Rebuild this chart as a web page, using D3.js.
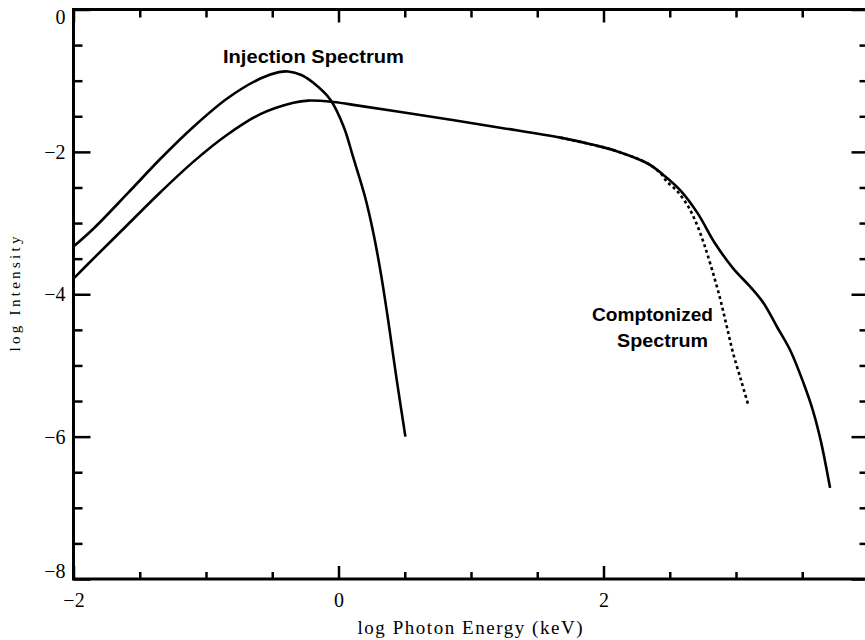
<!DOCTYPE html>
<html>
<head>
<meta charset="utf-8">
<script src="https://cdn.jsdelivr.net/npm/d3@7"></script>
<style>
    body { margin: 0; background: #fff; }
    svg { display: block; }
    .tick text { font-family: "Liberation Serif", "Times New Roman", serif; font-size: 20px; fill: #000; }
    .tick line { stroke: #000; stroke-width: 2.5; }
    .axes-label { font-family: "Liberation Serif", "Times New Roman", serif; fill: #000; text-anchor: middle; }
    .note { font-family: "Liberation Sans", Arial, sans-serif; font-weight: bold; font-size: 18px; fill: #000; text-anchor: middle; }
    .curve { fill: none; stroke: #000; stroke-width: 2.6; }
</style>
</head>
<body>
<div id="chart"></div>
<script>
// injection spectrum (narrow, peaked solid curve)
const injLogE = [-2.0, -1.85, -1.59, -1.34, -1.09, -0.84, -0.59, -0.45, -0.38, -0.28, -0.19, -0.06, 0.04, 0.11, 0.20, 0.26, 0.32, 0.38, 0.44, 0.505];
const injLogI = [-3.33, -3.08, -2.58, -2.09, -1.64, -1.25, -0.97, -0.88, -0.87, -0.92, -1.03, -1.27, -1.65, -2.07, -2.63, -3.11, -3.71, -4.43, -5.21, -6.0];

// comptonized spectrum (broad solid curve)
const compLogE = [-2.0, -1.85, -1.59, -1.34, -1.09, -0.84, -0.59, -0.34, -0.23, -0.04, 0.15, 0.47, 1.22, 1.675, 1.92, 2.10, 2.33, 2.45, 2.58, 2.71, 2.84, 2.98, 3.11, 3.21, 3.31, 3.41, 3.51, 3.58, 3.64, 3.71];
const compLogI = [-3.78, -3.50, -3.02, -2.56, -2.13, -1.76, -1.47, -1.31, -1.28, -1.30, -1.35, -1.44, -1.66, -1.80, -1.90, -1.99, -2.16, -2.32, -2.54, -2.86, -3.28, -3.64, -3.90, -4.13, -4.46, -4.79, -5.25, -5.63, -6.06, -6.72];

// dotted cutoff branch of the comptonized spectrum
const dotLogE = [1.675, 1.92, 2.10, 2.33, 2.43, 2.48, 2.56, 2.64, 2.70, 2.76, 2.82, 2.88, 2.93, 2.98, 3.04, 3.09];
const dotLogI = [-1.80, -1.90, -1.99, -2.16, -2.30, -2.42, -2.56, -2.77, -3.00, -3.30, -3.66, -4.06, -4.45, -4.84, -5.22, -5.54];

// tick values
const xMajorTicks = [-2, 0, 2];
const yMajorTicks = [-8, -6, -4, -2, 0];

let width = 865,
    height = 640,
    xLabelText = 'log Photon Energy (keV)',
    yLabelText = 'log Intensity',
    fmt = d3.format('d');

let xScale = d3.scaleLinear().domain([-2, 4]).range([73.5, 868.5]),
    yScale = d3.scaleLinear().domain([-8, 0]).range([579, 9.5]),
    xMinor = d3.range(-2, 4.01, 0.5).filter(d => !Number.isInteger(d / 2)),
    yMinor = d3.range(-8, 0.01, 0.5).filter(d => !yMajorTicks.includes(d));

let svg = d3.select('#chart')
    .append('svg')
    .attr('width', width)
    .attr('height', height);

// helper: drop the axis line and d3's default fonts
function clean(g) {
    g.select('.domain').remove();
    g.attr('font-size', null).attr('font-family', null);
}

// left axis, labelled
let left = svg.append('g')
    .attr('transform', `translate(${xScale(-2)},0)`)
    .call(d3.axisLeft(yScale).tickValues(yMajorTicks).tickFormat(fmt)
        .tickSizeInner(-17).tickSizeOuter(0).tickPadding(8))
    .call(clean);
left.selectAll('.tick text')
    .attr('dy', d => d === 0 ? '0.7em' : d === -8 ? '-0.08em' : '0.32em');
svg.append('g')
    .attr('transform', `translate(${xScale(-2)},0)`)
    .call(d3.axisLeft(yScale).tickValues(yMinor).tickSizeInner(-9).tickSizeOuter(0).tickFormat(''))
    .call(clean);

// right axis, ticks only
svg.append('g')
    .attr('transform', `translate(${xScale(4)},0)`)
    .call(d3.axisRight(yScale).tickValues(yMajorTicks).tickSizeInner(-17).tickSizeOuter(0).tickFormat(''))
    .call(clean);
svg.append('g')
    .attr('transform', `translate(${xScale(4)},0)`)
    .call(d3.axisRight(yScale).tickValues(yMinor).tickSizeInner(-9).tickSizeOuter(0).tickFormat(''))
    .call(clean);

// bottom axis, labelled
svg.append('g')
    .attr('transform', `translate(0,${yScale(-8)})`)
    .call(d3.axisBottom(xScale).tickValues(xMajorTicks).tickFormat(fmt)
        .tickSizeInner(-13).tickSizeOuter(0).tickPadding(14))
    .call(clean);
svg.append('g')
    .attr('transform', `translate(0,${yScale(-8)})`)
    .call(d3.axisBottom(xScale).tickValues(xMinor).tickSizeInner(-7).tickSizeOuter(0).tickFormat(''))
    .call(clean);

// top axis, ticks only
svg.append('g')
    .attr('transform', `translate(0,${yScale(0)})`)
    .call(d3.axisTop(xScale).tickValues(xMajorTicks).tickSizeInner(-13).tickSizeOuter(0).tickFormat(''))
    .call(clean);
svg.append('g')
    .attr('transform', `translate(0,${yScale(0)})`)
    .call(d3.axisTop(xScale).tickValues(xMinor).tickSizeInner(-8).tickSizeOuter(0).tickFormat(''))
    .call(clean);

// frame
svg.append('rect')
    .attr('x', xScale(-2))
    .attr('y', yScale(0))
    .attr('width', xScale(4) - xScale(-2))
    .attr('height', yScale(-8) - yScale(0))
    .attr('fill', 'none')
    .attr('stroke', '#000')
    .attr('stroke-width', 3);

// axis titles
svg.append('text')
    .classed('axes-label', true)
    .attr('x', 470)
    .attr('y', 634)
    .attr('font-size', 19)
    .attr('textLength', 225)
    .attr('lengthAdjust', 'spacing')
    .text(xLabelText);

svg.append('text')
    .classed('axes-label', true)
    .attr('transform', 'translate(20,294) rotate(-90)')
    .attr('font-size', 15)
    .attr('textLength', 115)
    .attr('lengthAdjust', 'spacing')
    .text(yLabelText);

// curves
let line = d3.line()
    .x(d => xScale(d[0]))
    .y(d => yScale(d[1]))
    .curve(d3.curveCatmullRom.alpha(0.5));

svg.append('path')
    .datum(d3.zip(dotLogE, dotLogI))
    .classed('curve', true)
    .attr('stroke-width', 2.4)
    .attr('stroke-dasharray', '3,3')
    .attr('d', line);

svg.append('path')
    .datum(d3.zip(injLogE, injLogI))
    .classed('curve', true)
    .attr('d', line);

svg.append('path')
    .datum(d3.zip(compLogE, compLogI))
    .classed('curve', true)
    .attr('d', line);

// annotations
svg.append('text')
    .classed('note', true)
    .attr('x', 313.5)
    .attr('y', 63)
    .attr('textLength', 181)
    .attr('lengthAdjust', 'spacingAndGlyphs')
    .text('Injection Spectrum');

svg.append('text')
    .classed('note', true)
    .attr('x', 652.5)
    .attr('y', 321)
    .attr('textLength', 121)
    .attr('lengthAdjust', 'spacingAndGlyphs')
    .text('Comptonized');

svg.append('text')
    .classed('note', true)
    .attr('x', 662.5)
    .attr('y', 347)
    .attr('textLength', 91)
    .attr('lengthAdjust', 'spacingAndGlyphs')
    .text('Spectrum');
</script>
</body>
</html>
